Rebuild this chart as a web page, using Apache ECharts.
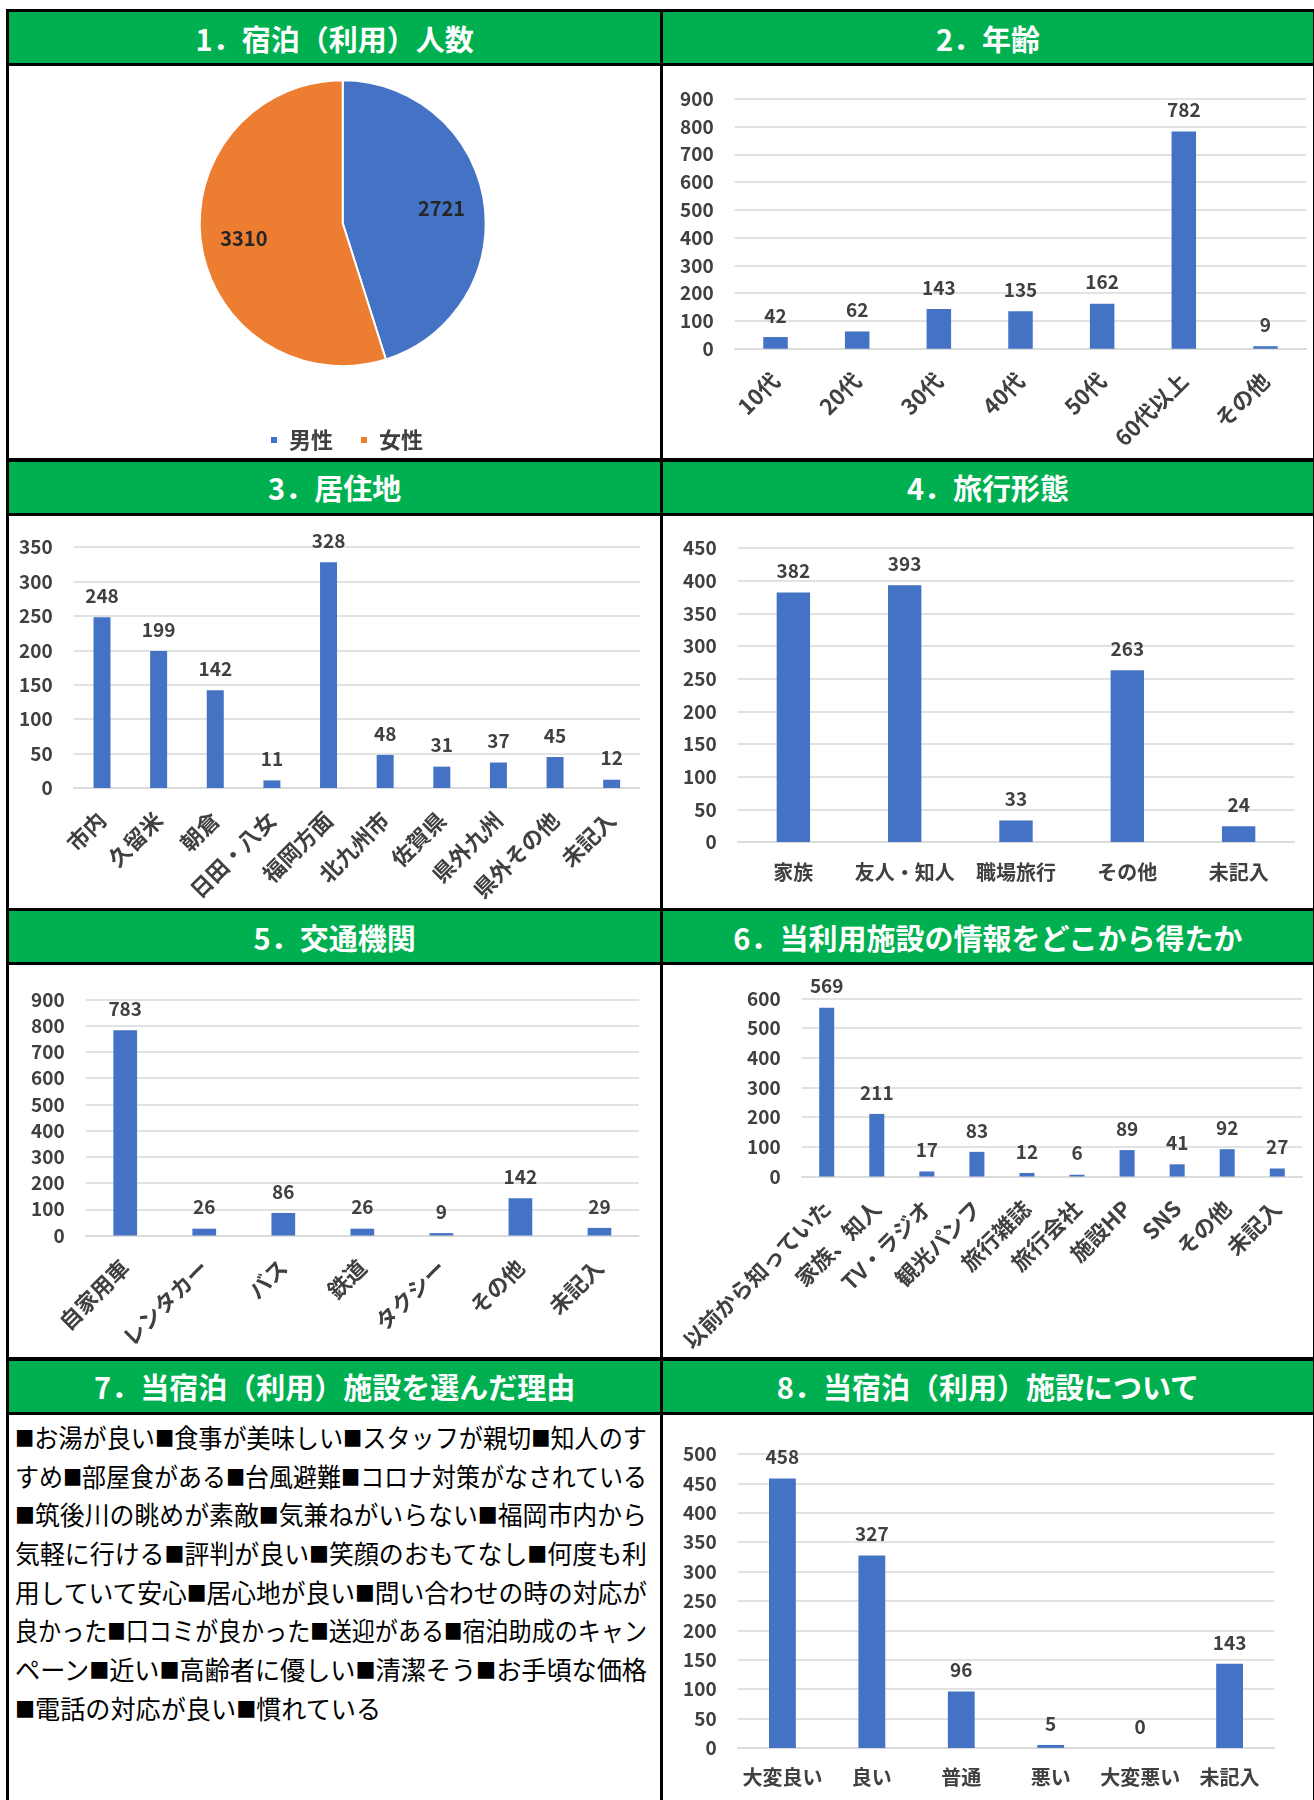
<!DOCTYPE html>
<html>
<head>
<meta charset="utf-8">
<script src="https://cdn.jsdelivr.net/npm/echarts@6/dist/echarts.min.js"></script>
<style>
html, body {
    margin: 0;
    padding: 0;
    width: 1314px;
    height: 1800px;
    overflow: hidden;
    background: #fff;
    font-family: 'Noto Sans CJK JP', sans-serif;
}
#board {
    position: absolute;
    left: 6.3px;
    top: 9px;
    width: 1309.4px;
    height: 1800px;
    box-sizing: border-box;
    padding: 3px;
    background: #000;
    display: grid;
    grid-template-columns: 650.7px 649.4px;
    grid-template-rows: 51px 392px 51px 392px 51px 392px 51px 1fr;
    gap: 3.3px;
}
.hd {
    background: #00B050;
    color: #fff;
    font-weight: bold;
    font-size: 29px;
    display: flex;
    align-items: center;
    justify-content: center;
    white-space: nowrap;
}
.ct {
    background: #fff;
    position: relative;
    overflow: hidden;
}
.chart {
    width: 100%;
    height: 100%;
}
.reasons {
    padding: 3px 0 0 6px;
}
.reasons div {
    font-size: 26px;
    line-height: 37.3px;
    color: #000;
    white-space: nowrap;
    transform-origin: 0 50%;
    width: max-content;
}
.reasons .sq {
    font-size: 0.8em;
    vertical-align: 0.08em;
}
</style>
</head>
<body>
<div id="board"></div>
<script>
// ---- data ----
const titles = [
    '1．宿泊（利用）人数', '2．年齢',
    '3．居住地', '4．旅行形態',
    '5．交通機関', '6．当利用施設の情報をどこから得たか',
    '7．当宿泊（利用）施設を選んだ理由', '8．当宿泊（利用）施設について'
];

const genderNames = ['男性', '女性'];
const genderValues = [2721, 3310];

const ageCats = ['10代', '20代', '30代', '40代', '50代', '60代以上', 'その他'];
const ageValues = [42, 62, 143, 135, 162, 782, 9];

const areaCats = ['市内', '久留米', '朝倉', '日田・八女', '福岡方面', '北九州市', '佐賀県', '県外九州', '県外その他', '未記入'];
const areaValues = [248, 199, 142, 11, 328, 48, 31, 37, 45, 12];

const tripCats = ['家族', '友人・知人', '職場旅行', 'その他', '未記入'];
const tripValues = [382, 393, 33, 263, 24];

const transCats = ['自家用車', 'レンタカー', 'バス', '鉄道', 'タクシー', 'その他', '未記入'];
const transValues = [783, 26, 86, 26, 9, 142, 29];

const infoCats = ['以前から知っていた', '家族、知人', 'TV・ラジオ', '観光パンフ', '旅行雑誌', '旅行会社', '施設HP', 'SNS', 'その他', '未記入'];
const infoValues = [569, 211, 17, 83, 12, 6, 89, 41, 92, 27];

const rateCats = ['大変良い', '良い', '普通', '悪い', '大変悪い', '未記入'];
const rateValues = [458, 327, 96, 5, 0, 143];

const reasonLines = [
    '■お湯が良い■食事が美味しい■スタッフが親切■知人のす',
    'すめ■部屋食がある■台風避難■コロナ対策がなされている',
    '■筑後川の眺めが素敵■気兼ねがいらない■福岡市内から',
    '気軽に行ける■評判が良い■笑顔のおもてなし■何度も利',
    '用していて安心■居心地が良い■問い合わせの時の対応が',
    '良かった■口コミが良かった■送迎がある■宿泊助成のキャン',
    'ペーン■近い■高齢者に優しい■清潔そう■お手頃な価格',
    '■電話の対応が良い■慣れている'
];

// ---- layout ----
const board = document.getElementById('board');
const cells = [];
for (let r = 0; r < 4; r++) {
    for (let c = 0; c < 2; c++) {
        const hd = document.createElement('div');
        hd.className = 'hd';
        hd.textContent = titles[r * 2 + c];
        board.appendChild(hd);
    }
    for (let c = 0; c < 2; c++) {
        const ct = document.createElement('div');
        ct.className = 'ct';
        board.appendChild(ct);
        cells.push(ct);
    }
}

const FONT = 'Noto Sans CJK JP';
const TXT = '#404040';
const GRID_LINE = '#D9D9D9';

const makeChart = (cell, height) => {
    const div = document.createElement('div');
    div.className = 'chart';
    if (height) div.style.height = height + 'px';
    cell.appendChild(div);
    return echarts.init(div);
};

const barOption = (cats, vals, o) => ({
    animation: false,
    textStyle: { fontFamily: FONT },
    grid: {
        left: o.left, right: o.right, top: o.top, bottom: o.bottom,
        containLabel: false, outerBoundsMode: 'none'
    },
    xAxis: {
        type: 'category',
        data: cats,
        axisTick: { show: false },
        axisLine: { lineStyle: { color: GRID_LINE, width: 1.5 } },
        axisLabel: {
            interval: 0,
            rotate: o.rotate || 0,
            margin: o.margin,
            fontSize: o.catSize || 20,
            fontWeight: 'bold',
            color: TXT,
            fontFamily: FONT
        }
    },
    yAxis: {
        type: 'value',
        min: 0,
        max: o.max,
        interval: o.interval,
        axisLine: { show: false },
        axisTick: { show: false },
        splitLine: { lineStyle: { color: GRID_LINE, width: 1.5 } },
        axisLabel: { margin: 21, fontSize: 19, fontWeight: 'bold', color: TXT, fontFamily: FONT }
    },
    series: [{
        type: 'bar',
        data: vals,
        barWidth: '30%',
        itemStyle: { color: '#4472C4' },
        label: {
            show: true, position: 'top', distance: 12,
            fontSize: 19, fontWeight: 'bold', color: TXT, fontFamily: FONT
        }
    }]
});

// 1. pie
const pieData = genderNames.map((n, i) => ({ name: n, value: genderValues[i] }));
const pieCenter = [333.7, 157.2];
makeChart(cells[0]).setOption({
    animation: false,
    color: ['#4472C4', '#ED7D31'],
    legend: {
        data: genderNames,
        left: 255, top: 358,
        icon: 'rect', itemWidth: 8, itemHeight: 8, itemGap: 26,
        textStyle: { fontSize: 22, fontWeight: 'bold', color: TXT, fontFamily: FONT, padding: [0, 0, 0, 6] }
    },
    series: [
        {
            type: 'pie',
            radius: 143,
            center: pieCenter,
            startAngle: 90,
            clockwise: true,
            data: pieData,
            itemStyle: { borderColor: '#fff', borderWidth: 2 },
            label: { show: false },
            labelLine: { show: false }
        },
        {
            // label carrier, pushes labels further out than half radius
            type: 'pie',
            radius: 194,
            center: pieCenter,
            startAngle: 90,
            clockwise: true,
            silent: true,
            legendHoverLink: false,
            data: pieData,
            itemStyle: { color: 'transparent' },
            label: {
                show: true, position: 'inside', formatter: '{c}',
                fontSize: 20, fontWeight: 'bold', color: '#262626', fontFamily: FONT
            },
            labelLine: { show: false }
        }
    ]
});

// 2. age
makeChart(cells[1]).setOption(barOption(ageCats, ageValues, {
    left: 71.7, right: 5.7, top: 32.7, bottom: 109.3,
    max: 900, interval: 100, rotate: 45, margin: 28, catSize: 22
}));

// 3. residence
makeChart(cells[2]).setOption(barOption(areaCats, areaValues, {
    left: 64.7, right: 20, top: 31, bottom: 120,
    max: 350, interval: 50, rotate: 45, margin: 28, catSize: 22
}));

// 4. travel type
makeChart(cells[3]).setOption(barOption(tripCats, tripValues, {
    left: 74.7, right: 17.7, top: 32, bottom: 66,
    max: 450, interval: 50, margin: 20
}));

// 5. transport
makeChart(cells[4]).setOption(barOption(transCats, transValues, {
    left: 76.7, right: 21, top: 34.5, bottom: 121.5,
    max: 900, interval: 100, rotate: 45, margin: 28, catSize: 22
}));

// 6. info source
makeChart(cells[5]).setOption(barOption(infoCats, infoValues, {
    left: 138.7, right: 9.7, top: 33.5, bottom: 180.5,
    max: 600, interval: 100, rotate: 45, margin: 28, catSize: 22
}));

// 7. reasons (text), each full line squeezed to the cell width
const box = document.createElement('div');
box.className = 'reasons';
const lineDivs = reasonLines.map(t => {
    const d = document.createElement('div');
    t.split('■').forEach((part, i) => {
        if (i > 0) {
            const sq = document.createElement('span');
            sq.className = 'sq';
            sq.textContent = '■';
            d.appendChild(sq);
        }
        d.appendChild(document.createTextNode(part));
    });
    box.appendChild(d);
    return d;
});
cells[6].appendChild(box);
const fullWidth = 632;
let sx = 0.9;
lineDivs.forEach((d, i) => {
    if (i < lineDivs.length - 1) sx = fullWidth / d.getBoundingClientRect().width;
    d.style.transform = 'scaleX(' + sx + ')';
});

// 8. rating
makeChart(cells[7], 385).setOption(barOption(rateCats, rateValues, {
    left: 74.7, right: 37.7, top: 38.9, bottom: 52.1,
    max: 500, interval: 50, margin: 20
}));
</script>
</body>
</html>
